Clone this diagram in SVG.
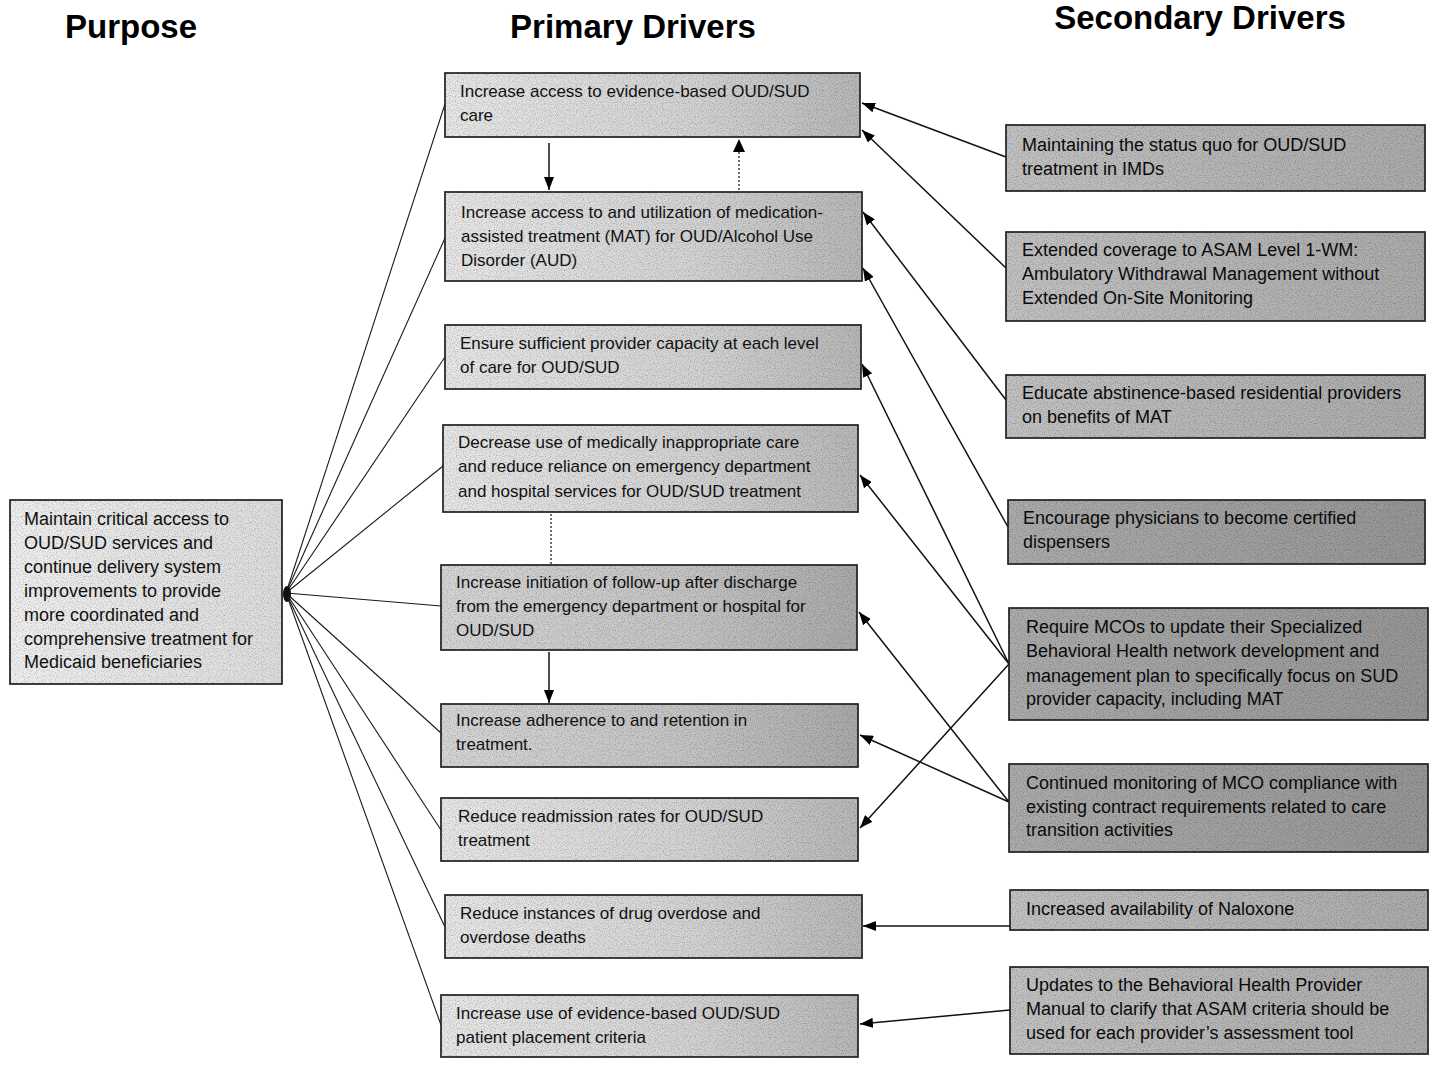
<svg xmlns="http://www.w3.org/2000/svg" width="1436" height="1065" viewBox="0 0 1436 1065">
<style>
  .hdr { font-family: "Liberation Sans", Arial, sans-serif; font-weight: bold; font-size: 33px; fill: #000; text-anchor: middle; }
  .t { font-family: "Liberation Sans", Arial, sans-serif; font-size: 17px; fill: #111; }
  .tp { font-family: "Liberation Sans", Arial, sans-serif; font-size: 18px; fill: #111; }
  .ts { font-family: "Liberation Sans", Arial, sans-serif; font-size: 18px; fill: #0a0a0a; }
  .box { stroke: #222; stroke-width: 1.7; filter: url(#grain); }
  .pri { fill: url(#gPri); }
  .pri2 { fill: url(#gPri2); }
  .sec { fill: url(#gSec); }
  .sec2 { fill: url(#gSec2); }
  .pur { fill: url(#gPur); }
  .fan { stroke: #1a1a1a; stroke-width: 1.1; fill: none; }
  .arr { stroke: #111; stroke-width: 1.5; fill: none; marker-end: url(#ah); }
  .dot { stroke: #222; stroke-width: 1.3; fill: none; stroke-dasharray: 2 2; }
</style>
<defs>
  <filter id="grain" x="-5%" y="-10%" width="110%" height="120%" filterUnits="objectBoundingBox">
    <feTurbulence type="fractalNoise" baseFrequency="0.85" numOctaves="1" seed="7" result="n"/>
    <feColorMatrix in="n" type="matrix" values="0 0 0 0 0  0 0 0 0 0  0 0 0 0 0  1.3 0 0 0 -0.58" result="a"/>
    <feComposite in="a" in2="SourceGraphic" operator="atop"/>
  </filter>
  <linearGradient id="gPur" x1="0" y1="0" x2="1" y2="0">
    <stop offset="0" stop-color="#f0f0f0"/><stop offset="1" stop-color="#dedede"/>
  </linearGradient>
  <linearGradient id="gPri" x1="0" y1="0" x2="1" y2="0">
    <stop offset="0" stop-color="#e8e8e8"/><stop offset="0.6" stop-color="#d4d4d4"/><stop offset="1" stop-color="#b8b8b8"/>
  </linearGradient>
  <linearGradient id="gPri2" x1="0" y1="0" x2="1" y2="0">
    <stop offset="0" stop-color="#d6d6d6"/><stop offset="0.6" stop-color="#c4c4c4"/><stop offset="1" stop-color="#aaaaaa"/>
  </linearGradient>
  <linearGradient id="gSec" x1="0" y1="0" x2="1" y2="0">
    <stop offset="0" stop-color="#c2c2c2"/><stop offset="1" stop-color="#ababab"/>
  </linearGradient>
  <linearGradient id="gSec2" x1="0" y1="0" x2="1" y2="0">
    <stop offset="0" stop-color="#acacac"/><stop offset="1" stop-color="#969696"/>
  </linearGradient>
  <marker id="ah" markerWidth="13" markerHeight="10" refX="13" refY="5" orient="auto" markerUnits="userSpaceOnUse">
    <path d="M0,0 L13,5 L0,10 z" fill="#000"/>
  </marker>
</defs>

<g id="headers">
  <text class="hdr" x="131" y="38">Purpose</text>
  <text class="hdr" x="633" y="38">Primary Drivers</text>
  <text class="hdr" x="1200" y="29">Secondary Drivers</text>
</g>

<g id="connectors">
  <line class="fan" x1="286" y1="593" x2="445" y2="104"/>
  <line class="fan" x1="286" y1="593" x2="445" y2="238"/>
  <line class="fan" x1="286" y1="593" x2="445" y2="357"/>
  <line class="fan" x1="286" y1="593" x2="443" y2="466"/>
  <line class="fan" x1="286" y1="593" x2="441" y2="606"/>
  <line class="fan" x1="286" y1="593" x2="441" y2="733"/>
  <line class="fan" x1="286" y1="593" x2="441" y2="830"/>
  <line class="fan" x1="286" y1="593" x2="445" y2="927"/>
  <line class="fan" x1="286" y1="593" x2="441" y2="1025"/>
  <ellipse cx="287" cy="594" rx="4" ry="8" fill="#111"/>
  <line class="arr" x1="549" y1="143" x2="549" y2="190"/>
  <line class="dot" x1="739" y1="190" x2="739" y2="152"/>
  <path d="M733,152 L739,139 L745,152 z" fill="#000"/>
  <line class="dot" x1="551" y1="514" x2="551" y2="564"/>
  <line class="arr" x1="549" y1="652" x2="549" y2="703"/>
  <line class="arr" x1="1006" y1="157" x2="862" y2="103"/>
  <line class="arr" x1="1006" y1="268" x2="862" y2="130"/>
  <line class="arr" x1="1006" y1="400" x2="863" y2="212"/>
  <line class="arr" x1="1008" y1="527" x2="863" y2="268"/>
  <line class="arr" x1="1009" y1="664" x2="862" y2="364"/>
  <line class="arr" x1="1009" y1="664" x2="860" y2="475"/>
  <line class="arr" x1="1009" y1="664" x2="860" y2="828"/>
  <line class="arr" x1="1009" y1="802" x2="859" y2="612"/>
  <line class="arr" x1="1009" y1="802" x2="860" y2="735"/>
  <line class="arr" x1="1010" y1="926" x2="863" y2="926"/>
  <line class="arr" x1="1010" y1="1010" x2="860" y2="1024"/>
</g>

<g id="purpose">
  <rect class="box pur" x="10" y="500" width="272" height="184"/>
  <text class="tp"><tspan x="24" y="525">Maintain critical access to</tspan><tspan x="24" y="549">OUD/SUD services and</tspan><tspan x="24" y="573">continue delivery system</tspan><tspan x="24" y="597">improvements to provide</tspan><tspan x="24" y="621">more coordinated and</tspan><tspan x="24" y="645">comprehensive treatment for</tspan><tspan x="24" y="668">Medicaid beneficiaries</tspan></text>
</g>

<g id="p1">
  <rect class="box pri" x="445" y="73" width="415" height="64"/>
  <text class="t"><tspan x="460" y="97">Increase access to evidence-based OUD/SUD</tspan><tspan x="460" y="121">care</tspan></text>
</g>
<g id="p2">
  <rect class="box pri" x="445" y="192" width="417" height="89"/>
  <text class="t"><tspan x="461" y="218">Increase access to and utilization of medication-</tspan><tspan x="461" y="242">assisted treatment (MAT) for OUD/Alcohol Use</tspan><tspan x="461" y="266">Disorder (AUD)</tspan></text>
</g>
<g id="p3">
  <rect class="box pri" x="445" y="325" width="416" height="64"/>
  <text class="t"><tspan x="460" y="349">Ensure sufficient provider capacity at each level</tspan><tspan x="460" y="373">of care for OUD/SUD</tspan></text>
</g>
<g id="p4">
  <rect class="box pri" x="443" y="425" width="415" height="87"/>
  <text class="t"><tspan x="458" y="448">Decrease use of medically inappropriate care</tspan><tspan x="458" y="472">and reduce reliance on emergency department</tspan><tspan x="458" y="497">and hospital services for OUD/SUD treatment</tspan></text>
</g>
<g id="p5">
  <rect class="box pri2" x="441" y="565" width="416" height="85"/>
  <text class="t"><tspan x="456" y="588">Increase initiation of follow-up after discharge</tspan><tspan x="456" y="612">from the emergency department or hospital for</tspan><tspan x="456" y="636">OUD/SUD</tspan></text>
</g>
<g id="p6">
  <rect class="box pri2" x="441" y="704" width="417" height="63"/>
  <text class="t"><tspan x="456" y="726">Increase adherence to and retention in</tspan><tspan x="456" y="750">treatment.</tspan></text>
</g>
<g id="p7">
  <rect class="box pri" x="441" y="798" width="417" height="63"/>
  <text class="t"><tspan x="458" y="822">Reduce readmission rates for OUD/SUD</tspan><tspan x="458" y="846">treatment</tspan></text>
</g>
<g id="p8">
  <rect class="box pri" x="445" y="895" width="417" height="63"/>
  <text class="t"><tspan x="460" y="919">Reduce instances of drug overdose and</tspan><tspan x="460" y="943">overdose deaths</tspan></text>
</g>
<g id="p9">
  <rect class="box pri" x="441" y="995" width="417" height="62"/>
  <text class="t"><tspan x="456" y="1019">Increase use of evidence-based OUD/SUD</tspan><tspan x="456" y="1043">patient placement criteria</tspan></text>
</g>

<g id="s1">
  <rect class="box sec" x="1006" y="125" width="419" height="66"/>
  <text class="ts"><tspan x="1022" y="151">Maintaining the status quo for OUD/SUD</tspan><tspan x="1022" y="175">treatment in IMDs</tspan></text>
</g>
<g id="s2">
  <rect class="box sec" x="1006" y="232" width="419" height="89"/>
  <text class="ts"><tspan x="1022" y="256">Extended coverage to ASAM Level 1-WM:</tspan><tspan x="1022" y="280">Ambulatory Withdrawal Management without</tspan><tspan x="1022" y="304">Extended On-Site Monitoring</tspan></text>
</g>
<g id="s3">
  <rect class="box sec" x="1006" y="375" width="419" height="63"/>
  <text class="ts"><tspan x="1022" y="399">Educate abstinence-based residential providers</tspan><tspan x="1022" y="423">on benefits of MAT</tspan></text>
</g>
<g id="s4">
  <rect class="box sec2" x="1008" y="500" width="417" height="64"/>
  <text class="ts"><tspan x="1023" y="524">Encourage physicians to become certified</tspan><tspan x="1023" y="548">dispensers</tspan></text>
</g>
<g id="s5">
  <rect class="box sec2" x="1009" y="608" width="419" height="112"/>
  <text class="ts"><tspan x="1026" y="633">Require MCOs to update their Specialized</tspan><tspan x="1026" y="657">Behavioral Health network development and</tspan><tspan x="1026" y="682">management plan to specifically focus on SUD</tspan><tspan x="1026" y="705">provider capacity, including MAT</tspan></text>
</g>
<g id="s6">
  <rect class="box sec2" x="1009" y="764" width="419" height="88"/>
  <text class="ts"><tspan x="1026" y="789">Continued monitoring of MCO compliance with</tspan><tspan x="1026" y="813">existing contract requirements related to care</tspan><tspan x="1026" y="836">transition activities</tspan></text>
</g>
<g id="s7">
  <rect class="box sec" x="1010" y="890" width="418" height="40"/>
  <text class="ts"><tspan x="1026" y="915">Increased availability of Naloxone</tspan></text>
</g>
<g id="s8">
  <rect class="box sec" x="1010" y="967" width="418" height="87"/>
  <text class="ts"><tspan x="1026" y="991">Updates to the Behavioral Health Provider</tspan><tspan x="1026" y="1015">Manual to clarify that ASAM criteria should be</tspan><tspan x="1026" y="1039">used for each provider’s assessment tool</tspan></text>
</g>
</svg>
